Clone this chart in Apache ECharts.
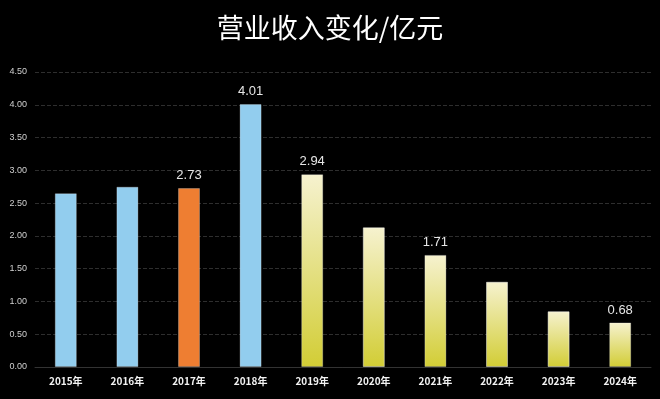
<!DOCTYPE html>
<html>
<head>
<meta charset="utf-8">
<script src="https://cdn.jsdelivr.net/npm/echarts@6/dist/echarts.min.js"></script>
<style>
html,body{margin:0;padding:0;background:#000;}
#main{width:660px;height:399px;}
</style>
</head>
<body>
<div id="main"></div>
<script>
var years = ['2015年', '2016年', '2017年', '2018年', '2019年', '2020年', '2021年', '2022年', '2023年', '2024年'];
var revenue = [2.65, 2.75, 2.73, 4.01, 2.94, 2.13, 1.71, 1.30, 0.85, 0.68];
var barKind = ['blue', 'blue', 'orange', 'blue', 'yellow', 'yellow', 'yellow', 'yellow', 'yellow', 'yellow'];
var showLabel = [false, false, true, true, true, false, true, false, false, true];

var yellowGrad = new echarts.graphic.LinearGradient(0, 0, 0, 1, [
    {offset: 0, color: '#f6f2cf'},
    {offset: 1, color: '#d2cd35'}
]);
var colors = {blue: '#92cdee', orange: '#ee7e32', yellow: yellowGrad};

var seriesData = [];
for (let i = 0; i < revenue.length; i++) {
    seriesData.push({
        value: revenue[i],
        itemStyle: {color: colors[barKind[i]]},
        label: {show: showLabel[i]}
    });
}

var myChart = echarts.init(document.getElementById('main'));
var option = {
    backgroundColor: '#000',
    title: {
        text: '营业收入变化/亿元',
        left: 'center',
        top: 9,
        textStyle: {
            color: '#fff',
            fontSize: 27,
            fontWeight: 'normal',
            fontFamily: 'Noto Sans CJK SC'
        }
    },
    grid: {left: 35, right: 9, top: 72, bottom: 32},
    xAxis: {
        type: 'category',
        data: years,
        axisLine: {lineStyle: {color: '#333'}},
        axisTick: {show: false},
        axisLabel: {
            color: '#f2f2f2',
            fontSize: 10,
            fontWeight: 'bold',
            fontFamily: 'Noto Sans CJK SC',
            margin: 9
        }
    },
    yAxis: {
        type: 'value',
        min: 0,
        max: 4.5,
        interval: 0.5,
        axisLine: {show: false},
        axisTick: {show: false},
        axisLabel: {
            color: '#d0d0d0',
            fontSize: 9,
            formatter: function (v) { return v.toFixed(2); }
        },
        splitLine: {lineStyle: {color: '#2e2e2e', type: 'dashed'}}
    },
    series: [{
        type: 'bar',
        barWidth: 22,
        data: seriesData,
        itemStyle: {borderColor: 'rgba(255,255,255,0.25)', borderWidth: 1},
        label: {
            position: 'top',
            color: '#e6e6e6',
            fontSize: 13,
            distance: 6,
            formatter: function (p) { return p.value.toFixed(2); }
        }
    }]
};
myChart.setOption(option);
</script>
</body>
</html>
